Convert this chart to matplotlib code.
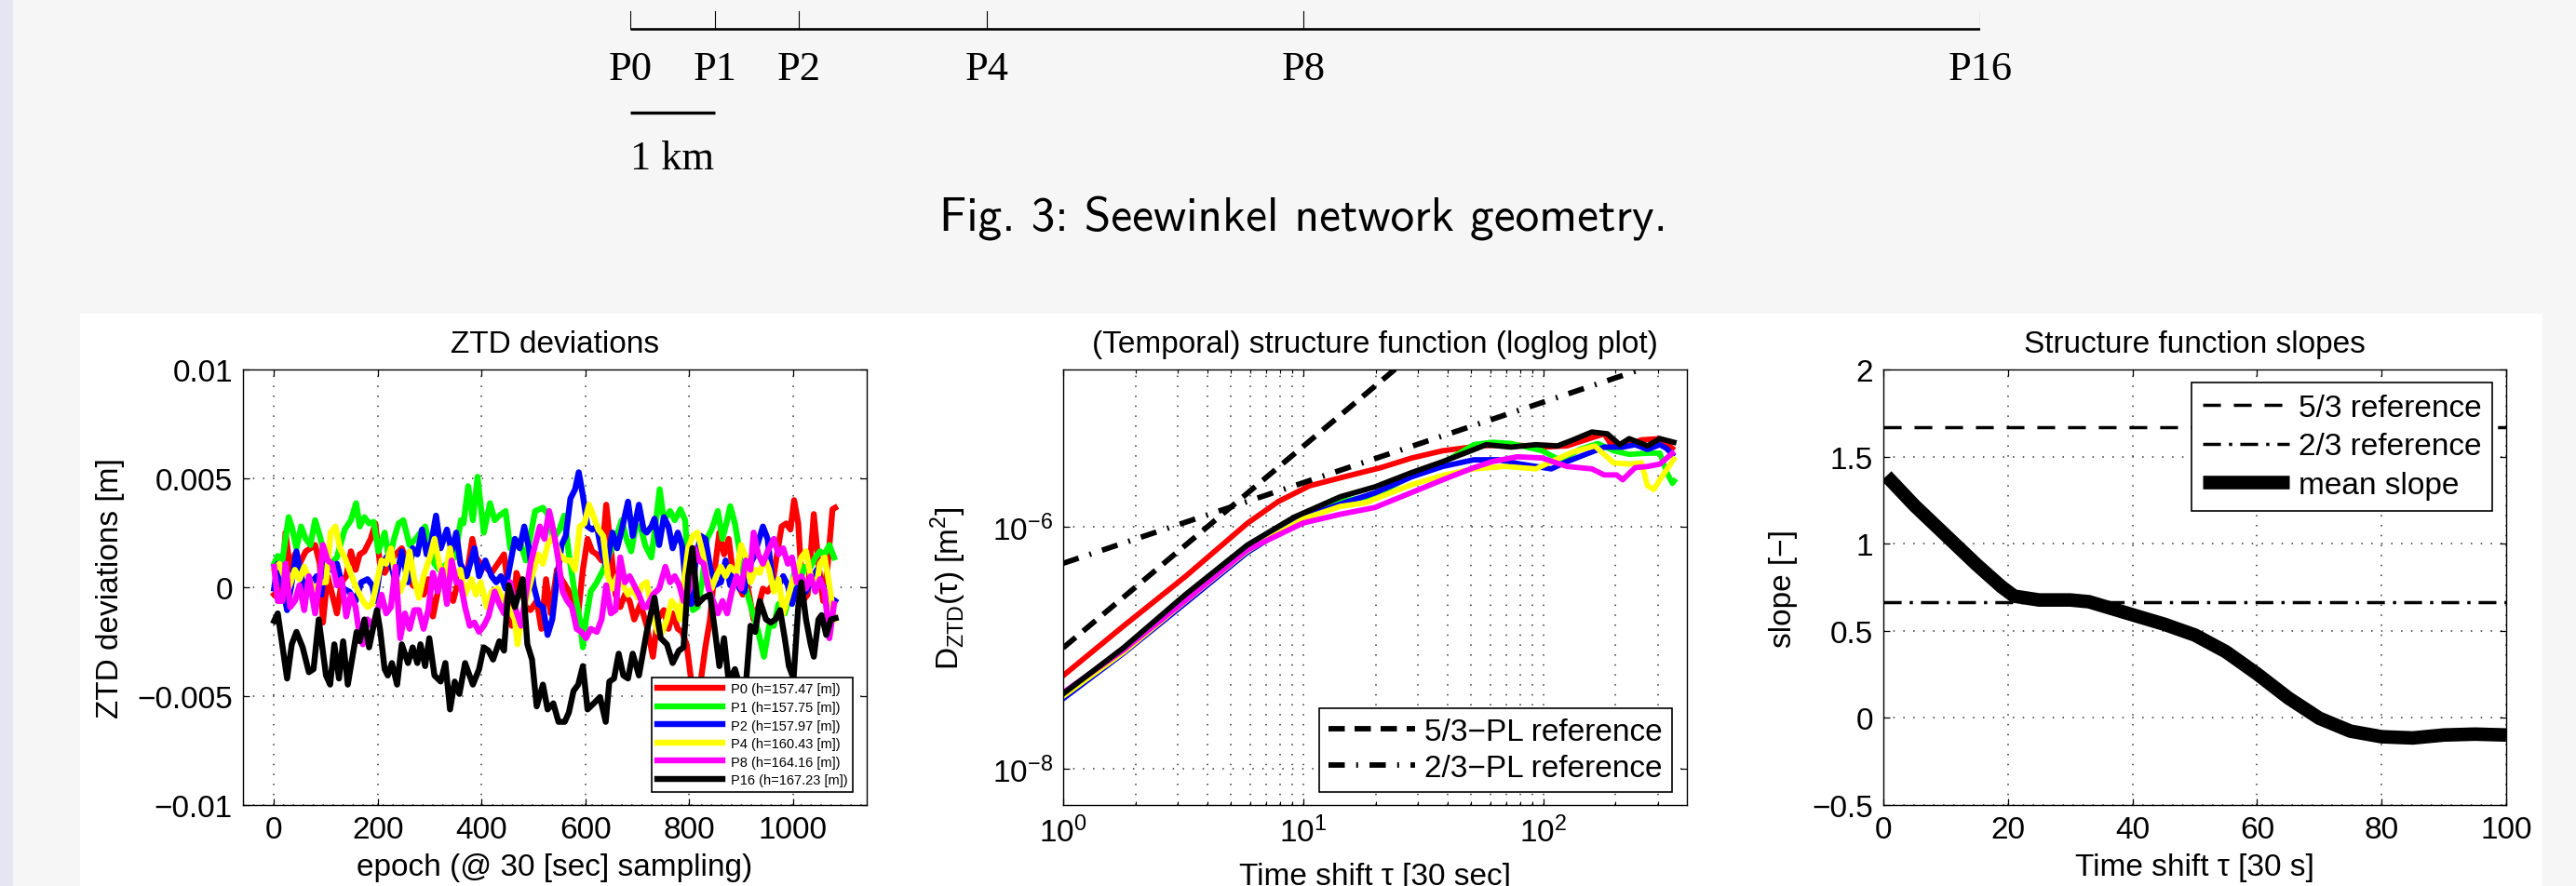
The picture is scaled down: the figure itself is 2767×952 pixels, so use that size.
import numpy as np
import matplotlib.pyplot as plt
from matplotlib.patches import Rectangle
from matplotlib.ticker import NullLocator, LogLocator

W, H = 2767, 953

# ---------------- data ----------------
stations = ['P0', 'P1', 'P2', 'P4', 'P8', 'P16']
heights = [157.47, 157.75, 157.97, 160.43, 164.16, 167.23]
colors = ['#ff0000', '#00ff00', '#0000ff', '#ffff00', '#ff00ff', '#000000']
dist_km = [0, 1, 2, 4.23, 7.98, 16]

# ZTD deviations, epoch index and value in mm
p0_ep = [0, 7, 16, 22, 31, 40, 49, 61, 70, 79, 88, 94, 103, 112, 121, 130, 139, 148, 157, 165,
         174, 186, 195, 204, 213, 222, 234, 246, 258, 267, 279, 288, 297, 306, 318, 327, 336, 345, 357,
         371, 382, 389, 398, 407, 419, 431, 443, 449, 458, 467, 476, 485, 494, 506, 515, 524, 533, 545, 554,
         565, 574, 586, 595, 604, 613, 622, 631, 640, 649, 658, 667, 676, 685, 694, 706,
         718, 730, 739, 751, 760, 768, 778, 786, 795, 804, 813, 822, 831, 840, 849, 858, 867, 876, 885, 894,
         903, 912, 924, 933, 942, 951, 960, 969, 978, 987, 995, 1002, 1010, 1019, 1028, 1040, 1049, 1058,
         1067, 1076, 1081]
p0_mm = [-0.34, -0.2, 0.51, 2.51, 0.80, 1.51, 1.08, 1.65, 1.79, 1.94, 1.08, -1.62, 0.51, -0.34, -1.20, 0.23,
         0.51, 1.65, 0.80, 1.51, 1.65, 2.22, 2.93, 1.08, 0.66, 1.08, 1.51, 1.79, 1.08, 0.09, -0.06, -0.34,
         0.37, -1.34, 0.09, 0.23, -0.2, -0.63, 0.51,
         0.51, 2.22, 1.37, 1.08, 0.94, 0.66, 1.08, 1.51, 0.37, -1.77, 0.66, 0.09, -0.91, -1.05, -0.63, -1.91,
         0.37, -1.20, 0.80, 0.37, -0.06, -0.48, -1.20, 0.80, 2.22, 1.65, 1.51, 1.23, 3.79, 1.79, -0.34, -0.91,
         -0.34, -0.63, -1.48, -0.77,
         -1.77, -3.19, -1.48, -1.05, -1.91, -1.20, -1.91, -2.05, -2.62, -4.33, -5.2, -4.33, -2.76, -1.48, 0.80,
         2.51, 1.51, 2.22, 0.51, 0.09, -0.34, 0.09, -1.48, -0.91, -0.06, -0.2, 0.09, 1.51, 2.79, 2.93, 2.65,
         4.0, 2.93, -0.63, -0.34, 3.36, 1.08, -0.63, 1.08, 3.58, 3.65]

p1_ep = [0, 7, 16, 28, 34, 43, 52, 61, 70, 79, 88, 97, 109, 121, 136, 148, 158, 165, 174, 183, 192, 201,
         213, 222, 231, 240, 249, 261, 273, 282, 291, 300, 309, 318, 333, 348, 360,
         365, 374, 383, 392, 404, 416, 425, 434, 446, 455, 464, 476, 485, 494, 503, 518, 527, 538, 550, 559,
         568, 577, 589, 595, 601, 610, 622, 634, 646, 658, 670, 679, 688, 697, 706, 715,
         718, 727, 736, 743, 751, 763, 772, 783, 792, 798, 807, 816, 825, 834, 843, 855, 864, 873, 879, 888,
         897, 909, 921, 933, 944, 954, 963, 972, 984, 995, 1004, 1013, 1022, 1031, 1043, 1052, 1061, 1070, 1079]
p1_mm = [1.08, 1.44, 1.23, 3.22, 2.79, 1.79, 2.79, 2.22, 1.94, 3.08, 2.36, 1.51, 1.08, 1.37, 2.65, 3.08,
         3.86, 2.79, 3.22, 2.93, 3.0, 1.65, 2.51, 1.23, 2.22, 2.93, 3.08, 1.94, 2.22, 2.51, 2.79, 1.94, 1.08,
         0.80, 1.08, 1.37, 3.08,
         2.93, 4.64, 3.08, 5.07, 2.51, 3.86, 3.08, 3.29, 3.50, 1.79, 2.22, 1.94, 1.23, 2.36, 3.50, 3.65, 3.36,
         2.22, 2.65, 3.29, 1.51, 0.09, -1.48, -2.76, -1.48, -0.2, 0.23, 0.80, 1.51, 2.22, 3.08, 2.22, 1.65,
         2.79, 2.79, 1.94,
         1.79, 1.37, 3.08, 4.50, 3.08, 3.50, 3.08, 3.58, 3.08, 0.86, -1.05, -0.91, 0.28, 2.22, 2.65, 3.50, 2.22,
         3.08, 3.72, 2.93, 1.65, -0.06, -1.05, -2.05, -3.19, -1.77, -1.77, -0.77, -1.20, -0.2, 0.80, 0.23,
         0.94, 0.80, 1.37, 1.65, 1.51, 1.94, 1.37]

p2_ep = [0, 7, 16, 25, 34, 43, 52, 61, 73, 82, 91, 100, 109, 121, 133, 145, 157, 168, 180, 189, 195, 204,
         216, 225, 234, 246, 258, 267, 276, 285, 294, 303, 312, 321, 333, 342, 351,
         359, 371, 386, 395, 407, 419, 428, 437, 446, 455, 464, 473, 482, 491, 500, 509, 518, 527, 536, 545,
         554, 562, 571, 580, 587, 595, 604, 613, 622, 631, 640, 652, 661, 670, 682, 691, 703, 712,
         718, 727, 733, 742, 751, 760, 768, 778, 786, 794, 804, 813, 822, 831, 840, 849, 861, 870, 879, 888,
         897, 906, 915, 924, 933, 942, 951, 960, 969, 981, 990, 998, 1007, 1016, 1025, 1034, 1046, 1055,
         1064, 1073, 1081]
p2_mm = [-0.06, 1.08, 0.09, -1.05, 0.23, 1.65, 0.51, -0.2, 0.23, 0.51, -0.34, 1.37, 0.80, 1.08, -0.06, -0.2,
         -0.63, 0.23, 0.37, 0.09, -0.63, 0.80, 1.37, 1.08, 0.23, 1.65, 0.23, 1.79, 1.51, 2.65, 1.51, 2.08,
         3.29, 1.79, 2.65, 1.65, 2.51,
         1.08, 0.51, 1.79, 0.51, 1.23, 0.51, 0.23, 0.51, -0.06, 1.08, 2.22, 1.79, 2.79, 1.79, 0.09, -0.77,
         -0.91, -2.19, -1.48, 0.37, 1.94, 2.36, 4.07, 4.50, 5.28, 4.22, 2.79, 2.65, 2.79, 1.65, 0.94, 2.51,
         1.79, 2.65, 3.93, 2.36, 3.79, 2.65,
         2.51, 2.79, 3.15, 1.94, 3.22, 2.79, 1.79, 2.51, 1.94, -0.06, -0.77, 1.37, 2.36, 2.22, 0.94, 0.09,
         0.23, 1.23, 0.09, 0.80, -0.06, -0.2, 0.94, 1.37, 2.08, 2.79, 2.22, 0.37, -0.06, 0.51, 0.09, -0.77,
         -0.06, 0.23, -0.2, 0.23, 0.80, 0.09, -0.06, -0.91, -0.63]

p4_ep = [0, 10, 19, 28, 40, 49, 58, 70, 79, 88, 100, 109, 118, 127, 136, 145, 154, 162, 171, 180, 189, 198,
         207, 216, 225, 234, 243, 252, 261, 270, 279, 288, 300, 309, 318, 327, 339, 348,
         359, 368, 380, 389, 398, 410, 419, 431, 443, 455, 464, 469, 476, 485, 497, 509, 518, 527, 538, 550,
         562, 571, 580, 589, 598, 607, 616, 625, 634, 643, 652, 661, 670, 682, 691, 700, 709,
         718, 727, 739, 748, 757, 766, 775, 782, 789, 798, 807, 816, 825, 834, 843, 852, 861, 870, 879, 891,
         900, 909, 918, 927, 936, 945, 954, 963, 972, 981, 990, 998, 1007, 1016, 1025, 1034, 1043, 1052,
         1061, 1070, 1079]
p4_mm = [0.80, 1.08, 0.51, -0.06, 0.80, 0.37, 0.94, 0.23, -0.2, 0.23, 0.23, 2.51, 2.79, 1.79, 1.37, 0.80,
         0.23, -0.2, -0.63, -0.91, -0.77, 0.23, 1.23, 1.08, 1.79, 0.51, -0.2, 0.37, 1.65, 0.37, -0.48, 0.51,
         1.37, 2.22, 1.08, 0.23, 1.79, 0.51,
         0.80, -0.34, 0.37, -0.34, 0.23, -0.91, -0.2, -0.06, -0.63, -1.05, -1.48, -2.62, -1.48, -0.63, 0.51,
         1.51, 1.08, 1.94, 2.36, 1.51, 1.23, 1.23, 0.80, 2.79, 2.93, 3.79, 3.22, 2.65, 2.36, 0.51, -0.06,
         0.51, 0.23, -0.34, -0.06, -0.48, 0.09,
         0.23, -0.91, -2.05, -2.05, -1.48, -0.63, -0.91, -1.48, 0.09, 1.79, 2.36, 2.51, 1.65, 0.51, -0.06,
         0.51, 0.94, 0.51, 0.94, 0.66, 1.94, 1.37, 0.23, 0.80, 0.66, 1.37, 0.80, -0.2, 0.37, -1.20, -0.48,
         0.23, 0.66, 1.37, 1.65, 0.51, -0.2, 1.08, 1.37, 0.09, -1.48]

p8_ep = [0, 7, 16, 22, 31, 40, 49, 58, 67, 79, 88, 94, 103, 112, 121, 130, 139, 148, 157, 162, 171, 180,
         189, 198, 207, 216, 225, 234, 243, 252, 261, 270, 279, 288, 297, 306, 315, 324, 333, 342, 351,
         359, 368, 377, 386, 395, 404, 413, 425, 434, 443, 455, 464, 476, 485, 494, 503, 512, 521, 530, 538,
         547, 556, 565, 574, 583, 592, 601, 610, 622, 631, 640, 649, 658, 667, 676, 685, 694, 703, 712,
         718, 730, 742, 754, 763, 772, 781, 789, 801, 810, 819, 828, 837, 846, 855, 864, 873, 882, 891, 900,
         909, 918, 924, 933, 942, 951, 963, 972, 981, 990, 998, 1007, 1016, 1025, 1034, 1043, 1052, 1061,
         1070, 1079]
p8_mm = [0.94, -0.63, -0.63, 1.08, -0.91, -0.63, 0.09, -1.05, 0.51, -1.20, 0.37, 1.94, 1.23, 1.08, 0.09,
         0.37, -1.34, -0.34, -0.91, -1.77, -2.62, -1.48, -1.77, -1.20, -0.34, -1.20, -0.91, 0.94, -2.34,
         -1.20, -1.91, -1.05, -1.05, -1.91, -1.05, 0.66, -0.2, 0.80, -0.77, 1.23, 0.23,
         0.23, -0.91, -1.77, -1.62, -2.05, -1.77, -1.34, -0.2, -0.77, -1.20, 0.23, -0.91, -1.77, -0.34, 1.08,
         1.94, 2.79, 2.22, 3.50, 2.65, 1.37, -0.2, -0.63, -0.91, -1.91, -2.05, -2.34, -1.91, -2.05, -1.48,
         0.09, -1.20, -1.05, 1.37, 0.23, 0.51, 0.09, -0.34, -0.91,
         -0.91, -0.34, -0.06, 0.94, 0.23, 0.51, 0.09, -0.63, -0.06, 1.79, 1.23, 1.08, -0.06, -0.63, -1.20,
         -0.63, -1.20, -0.2, 0.51, -0.06, 1.23, 0.80, 2.51, 1.51, 1.08, 1.65, 2.22, 1.51, 1.79, 1.08, 1.37,
         0.23, 0.51, -0.06, 0.51, -0.2, 0.37, -0.2, -2.34, -0.77]

p16_ep = [0, 7, 25, 34, 43, 55, 67, 76, 86, 100, 108, 116, 125, 133, 142, 151, 159, 165, 174, 183, 198,
          204, 213, 219, 227, 237, 246, 258, 267, 276, 282, 291, 299, 309, 321, 330, 339, 348, 357,
          368, 383, 395, 404, 413, 422, 434, 443, 452, 464, 479, 488, 497, 506, 518, 527, 538, 548, 560, 568,
          577, 586, 595, 604, 616, 628, 639, 646, 655, 664, 673, 682, 691, 703,
          718, 733, 745, 757, 768, 780, 789, 798, 806, 816, 828, 840, 849, 858, 867, 876, 888, 897, 909, 918,
          927, 936, 948, 957, 966, 975, 984, 992, 1001, 1010, 1016, 1025, 1034, 1040, 1049, 1055, 1064,
          1073, 1082]
p16_mm = [-1.55, -1.20, -4.19, -2.62, -2.05, -2.76, -3.90, -3.76, -1.48, -4.05, -4.47, -2.62, -4.19, -2.48,
          -4.47, -3.19, -2.05, -2.48, -1.48, -2.76, -1.05, -1.91, -3.76, -4.05, -3.48, -4.47, -2.62, -3.48,
          -2.76, -3.48, -2.62, -3.62, -2.34, -4.05, -4.33, -3.48, -5.61, -4.33, -4.90,
          -3.48, -4.47, -3.76, -2.76, -2.91, -3.32, -2.48, -2.91, 0.09, -0.91, 0.37, -2.62, -3.32, -5.47,
          -4.47, -5.61, -5.33, -6.18, -6.18, -5.75, -4.76, -4.47, -3.62, -5.61, -5.33, -5.04, -6.18, -4.33,
          -4.19, -3.05, -4.05, -4.19, -3.05, -4.05,
          -2.05, -0.48, -2.34, -2.62, -3.48, -2.91, -2.76, 0.51, 1.80, -0.77, -0.48, -0.34, -1.91, -3.62,
          -2.34, -4.33, -3.76, -4.5, -4.5, -1.77, -2.05, -0.63, -1.48, -1.62, -1.48, -1.05, -2.34, -3.62,
          -4.19, -0.91, 0.23, -1.48, -2.62, -3.19, -1.48, -1.28, -2.19, -1.48, -1.42]

ztd_ep = [p0_ep, p1_ep, p2_ep, p4_ep, p8_ep, p16_ep]
ztd_mm = [p0_mm, p1_mm, p2_mm, p4_mm, p8_mm, p16_mm]

# structure function, log10(tau) and log10(D)
sf0_lt = [0.0, 0.251, 0.509, 0.767, 0.896, 1.026, 1.194, 1.323, 1.452, 1.581, 1.736, 1.865, 1.995,
          2.098, 2.175, 2.253, 2.279, 2.33, 2.408, 2.485, 2.537]
sf0_ld = [-7.23, -6.82, -6.41, -5.97, -5.79, -5.66, -5.574, -5.51, -5.43, -5.37, -5.33, -5.32, -5.34,
          -5.33, -5.28, -5.23, -5.31, -5.34, -5.28, -5.27, -5.35]
sf1_lt = [0.0, 0.251, 0.509, 0.767, 1.0, 1.155, 1.297, 1.45, 1.581, 1.71, 1.787, 1.865, 1.995, 2.072,
          2.15, 2.227, 2.292, 2.357, 2.434, 2.485, 2.512, 2.537, 2.545]
sf1_ld = [-7.40, -7.036, -6.62, -6.21, -5.92, -5.79, -5.74, -5.58, -5.47, -5.32, -5.30, -5.31, -5.37,
          -5.45, -5.36, -5.31, -5.37, -5.40, -5.39, -5.39, -5.54, -5.64, -5.62]
sf2_lt = [0.0, 0.251, 0.509, 0.767, 1.0, 1.155, 1.297, 1.452, 1.581, 1.71, 1.813, 1.904, 1.969, 2.033,
          2.098, 2.163, 2.253, 2.33, 2.382, 2.434, 2.485, 2.512, 2.537]
sf2_ld = [-7.42, -7.045, -6.63, -6.21, -5.92, -5.81, -5.72, -5.585, -5.50, -5.445, -5.445, -5.48, -5.50,
          -5.52, -5.46, -5.41, -5.34, -5.34, -5.32, -5.36, -5.32, -5.35, -5.40]
sf4_lt = [0.0, 0.251, 0.509, 0.767, 1.0, 1.155, 1.26, 1.323, 1.452, 1.581, 1.71, 1.84, 1.969, 2.033,
          2.124, 2.214, 2.292, 2.357, 2.408, 2.434, 2.46, 2.485, 2.543]
sf4_ld = [-7.40, -7.036, -6.613, -6.197, -5.933, -5.83, -5.80, -5.75, -5.65, -5.574, -5.52, -5.50, -5.52,
          -5.46, -5.38, -5.33, -5.47, -5.48, -5.47, -5.66, -5.69, -5.61, -5.44]
sf8_lt = [0.0, 0.251, 0.509, 0.767, 1.0, 1.155, 1.297, 1.452, 1.581, 1.71, 1.787, 1.891, 1.995, 2.098,
          2.202, 2.253, 2.305, 2.33, 2.382, 2.434, 2.485, 2.537]
sf8_ld = [-7.37, -7.018, -6.608, -6.19, -5.967, -5.895, -5.84, -5.715, -5.61, -5.51, -5.46, -5.42, -5.43,
          -5.50, -5.52, -5.57, -5.57, -5.61, -5.51, -5.50, -5.48, -5.39]
sf16_lt = [0.0, 0.251, 0.509, 0.767, 0.961, 1.155, 1.297, 1.452, 1.581, 1.685, 1.762, 1.865, 1.969, 2.059,
           2.124, 2.202, 2.266, 2.318, 2.357, 2.434, 2.485, 2.543]
sf16_ld = [-7.38, -7.00, -6.56, -6.15, -5.92, -5.75, -5.67, -5.55, -5.46, -5.38, -5.32, -5.34, -5.32, -5.33,
           -5.28, -5.215, -5.23, -5.32, -5.27, -5.33, -5.27, -5.30]
sf_lt = [sf0_lt, sf1_lt, sf2_lt, sf4_lt, sf8_lt, sf16_lt]
sf_ld = [sf0_ld, sf1_ld, sf2_ld, sf4_ld, sf8_ld, sf16_ld]

# power-law references  D = c * tau^p
ref_tau = [1, 400]
ref53_c, ref53_p = 1.0e-7, 5 / 3
ref23_c, ref23_p = 5.0e-7, 2 / 3

# mean slope of the structure function
slope_tau = [0.5, 5, 10, 15, 19, 21, 25, 30, 33, 36, 40, 45, 50, 55, 60, 65, 70, 75, 80, 85, 90, 95, 100]
slope_val = [1.389, 1.219, 1.049, 0.879, 0.752, 0.699, 0.677, 0.677, 0.667, 0.635, 0.592, 0.539, 0.476,
             0.38, 0.253, 0.115, -0.002, -0.076, -0.108, -0.115, -0.098, -0.093, -0.098]

# ---------------- style ----------------
plt.rcParams['font.family'] = ['Liberation Sans', 'DejaVu Sans']
plt.rcParams['font.size'] = 24
for a in ['xtick', 'ytick']:
    plt.rcParams[a + '.direction'] = 'in'
    plt.rcParams[a + '.major.size'] = 5
    plt.rcParams[a + '.minor.size'] = 3
    plt.rcParams[a + '.major.width'] = 0.9
    plt.rcParams[a + '.minor.width'] = 0.8
    plt.rcParams[a + '.labelsize'] = 24
plt.rcParams['xtick.top'] = True
plt.rcParams['ytick.right'] = True
plt.rcParams['xtick.major.pad'] = 8
plt.rcParams['ytick.major.pad'] = 8
plt.rcParams['axes.linewidth'] = 1.0

grid_kw = dict(color='#333333', linestyle=(0, (1, 6)), linewidth=1.1)


def box(x0, y0, x1, y1):
    return [x0 / W, 1 - y1 / H, (x1 - x0) / W, (y1 - y0) / H]


def leg_style(leg):
    leg.get_frame().set_linewidth(1.2)
    leg.get_frame().set_edgecolor('k')


fig = plt.figure(figsize=(W / 100, H / 100), dpi=100, facecolor='#f6f6f6')
fig.patches.append(Rectangle((86 / W, 0), (2731 - 86) / W, (H - 338) / H, transform=fig.transFigure,
                             facecolor='white', edgecolor='none', zorder=-10))
fig.patches.append(Rectangle((0, 0), 14 / W, 1, transform=fig.transFigure,
                             facecolor='#e6e6f3', edgecolor='none', zorder=-10))

# ---------------- network geometry ----------------
ax0 = fig.add_axes(box(677, 0, 2127, 300))
ax0.set_xlim(0, 16)
ax0.set_ylim(300, 0)
ax0.axis('off')
ax0.plot([dist_km[0], dist_km[-1]], [32, 32], color='k', lw=1.9, solid_capstyle='butt')
for d, s in zip(dist_km, stations):
    ax0.plot([d, d], [13, 32], color='k', lw=0.8)
    ax0.text(d, 86, s, ha='center', va='baseline', fontsize=32, family=['Liberation Serif'])
ax0.plot([0, 1], [122, 122], color='k', lw=2.4, solid_capstyle='butt')
ax0.text(0.5, 182, '1 km', ha='center', va='baseline', fontsize=32, family=['Liberation Serif'])
fig.text(1400 / W, 1 - 248 / H, 'Fig. 3: Seewinkel network geometry.', ha='center', va='baseline',
         fontsize=37, family=['cmss10', 'DejaVu Sans'])

# ---------------- ZTD deviations ----------------
ax1 = fig.add_axes(box(261, 398, 931, 866))
for ep, mm, c, s, h in zip(ztd_ep, ztd_mm, colors, stations, heights):
    ax1.plot(ep, np.array(mm) / 1000, color=c, lw=4.6, label='%s (h=%.2f [m])' % (s, h))
ax1.set_xlim(-60, 1142)
ax1.set_ylim(-0.01, 0.01)
ax1.set_xticks([0, 200, 400, 600, 800, 1000])
ax1.set_yticks([-0.01, -0.005, 0, 0.005, 0.01])
ax1.set_yticklabels(['\u22120.01', '\u22120.005', '0', '0.005', '0.01'])
ax1.grid(True, **grid_kw)
ax1.set_title('ZTD deviations', pad=14, fontsize=24)
ax1.set_xlabel('epoch (@ 30 [sec] sampling)')
ax1.set_ylabel('ZTD deviations [m]')
ax1.xaxis.set_label_coords(0.5, -0.108)
ax1.yaxis.set_label_coords(-0.19, 0.5)
leg = ax1.legend(loc='lower right', bbox_to_anchor=(0.978, 0.03), borderaxespad=0, fancybox=False,
                 framealpha=1, fontsize=10.5, handlelength=4.8, handletextpad=0.6, labelspacing=0.38,
                 borderpad=0.4)
leg_style(leg)

# ---------------- structure function ----------------
ax2 = fig.add_axes(box(1142, 398, 1812, 866))
for lt, ld, c in zip(sf_lt, sf_ld, colors):
    ax2.plot(10 ** np.array(lt), 10 ** np.array(ld), color=c, lw=4.2)
rt = np.array(ref_tau, dtype=float)
ax2.plot(rt, ref53_c * rt ** ref53_p, color='k', lw=4.2, dashes=(3, 1.8), label='5/3\u2212PL reference')
ax2.plot(rt, ref23_c * rt ** ref23_p, color='k', lw=4.2, dashes=(3, 2.1, 0.35, 2.1),
         label='2/3\u2212PL reference')
ax2.set_xscale('log')
ax2.set_yscale('log')
ax2.set_xlim(1, 396)
ax2.set_ylim(10 ** -8.30, 10 ** -4.698)
ax2.set_yticks([1e-8, 1e-6])
ax2.yaxis.set_minor_locator(NullLocator())
ax2.xaxis.set_minor_locator(LogLocator(base=10, subs=np.arange(2, 10)))
ax2.grid(True, which='major', **grid_kw)
ax2.xaxis.grid(True, which='minor', **grid_kw)
ax2.set_title('(Temporal) structure function (loglog plot)', pad=14, fontsize=24)
ax2.set_xlabel('Time shift \u03c4 [30 sec]')
ax2.set_ylabel('D$_{\\mathdefault{ZTD}}$(\u03c4) [m$^{\\mathdefault{2}}$]')
ax2.xaxis.set_label_coords(0.5, -0.13)
ax2.yaxis.set_label_coords(-0.152, 0.5)
leg = ax2.legend(loc='lower right', bbox_to_anchor=(0.976, 0.03), borderaxespad=0, fancybox=False,
                 framealpha=1, fontsize=24, handlelength=2.8, handletextpad=0.3, labelspacing=0.25,
                 borderpad=0.3)
leg_style(leg)

# ---------------- slopes ----------------
ax3 = fig.add_axes(box(2023, 398, 2692, 866))
ax3.axhline(5 / 3, color='k', lw=2.5, dashes=(5.5, 4), label='5/3 reference')
ax3.axhline(2 / 3, color='k', lw=2.5, dashes=(5.5, 2.5, 1, 2.5), label='2/3 reference')
ax3.plot(slope_tau, slope_val, color='k', lw=10.5, solid_capstyle='butt', label='mean slope')
ax3.set_xlim(0, 100)
ax3.set_ylim(-0.5, 2)
ax3.set_xticks([0, 20, 40, 60, 80, 100])
ax3.set_yticks([-0.5, 0, 0.5, 1, 1.5, 2])
ax3.set_yticklabels(['\u22120.5', '0', '0.5', '1', '1.5', '2'])
ax3.grid(True, **grid_kw)
ax3.set_title('Structure function slopes', pad=14, fontsize=24)
ax3.set_xlabel('Time shift \u03c4 [30 s]')
ax3.set_ylabel('slope [\u2212]')
ax3.xaxis.set_label_coords(0.5, -0.108)
ax3.yaxis.set_label_coords(-0.1375, 0.5)
leg = ax3.legend(loc='upper right', bbox_to_anchor=(0.978, 0.970), borderaxespad=0, fancybox=False,
                 framealpha=1, fontsize=24, handlelength=2.8, handletextpad=0.3, labelspacing=0.32,
                 borderpad=0.35)
leg_style(leg)

fig.savefig('out.png', dpi=100, facecolor=fig.get_facecolor())
